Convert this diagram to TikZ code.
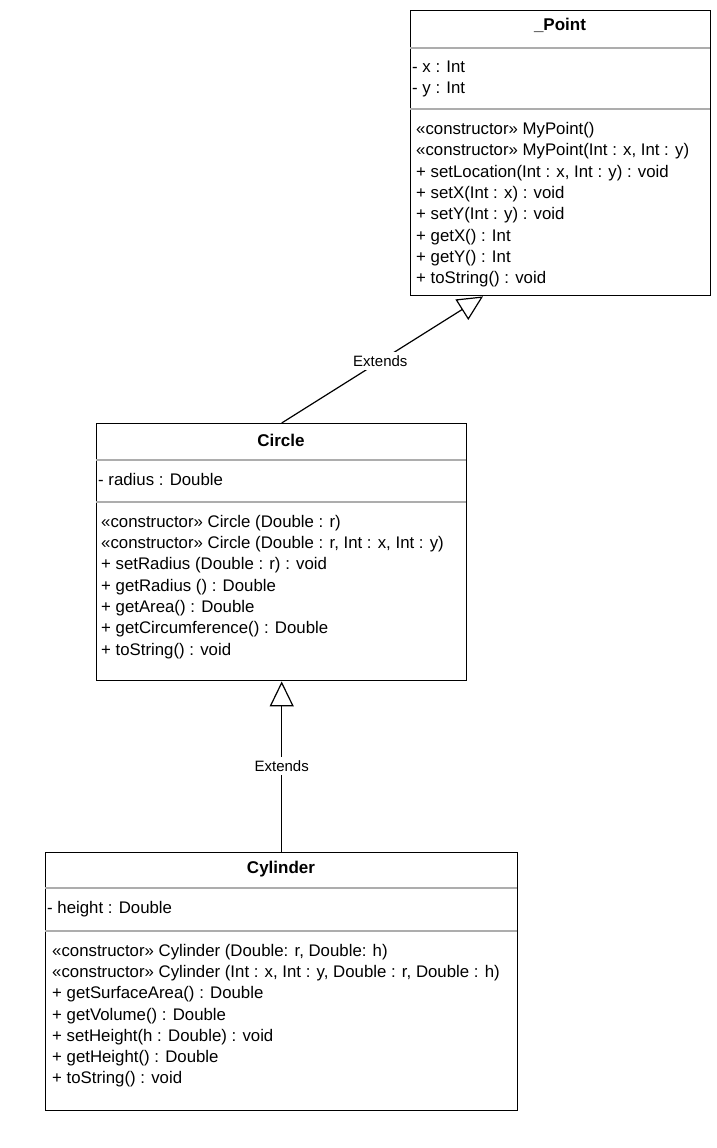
\documentclass[tikz,border=0pt]{standalone}
\usepackage{fontspec}
\setmainfont{Liberation Sans}
\usetikzlibrary{arrows.meta,calc}
\tikzset{
  classbox/.style={draw=black, line width=1.4pt, fill=white, anchor=north west, inner sep=0pt},
  sepline/.style={draw=black!32, line width=1.3pt},
  classtitle/.style={font=\fontsize{17}{20}\selectfont\bfseries, anchor=base, inner sep=0pt},
  member/.style={font=\fontsize{16.8}{20}\selectfont, anchor=base west, inner sep=0pt},
  extends/.style={line width=1.2pt, -{Triangle[open, length=25pt, width=24pt]}},
  elabel/.style={font=\fontsize{15}{18}\selectfont, fill=white, inner xsep=2pt, inner ysep=3.5pt},
}
\begin{document}
\begin{tikzpicture}[x=1pt,y=-1pt]
\useasboundingbox (0,0) rectangle (717,1148);

% ---------- _Point ----------
\node[classbox, minimum width=300pt, minimum height=285pt] (point) at (410,10) {};
\node[classtitle] (point-t) at (560,31) {\_Point};
\draw[sepline] (410,48) -- (710,48);
\node[member] (point-a1) at (412,72.5) {- x : Int};
\node[member] (point-a2) at (412,93.5) {- y : Int};
\draw[sepline] (410,109) -- (710,109);
\foreach \t [count=\i] in {
  {«constructor» MyPoint()},
  {«constructor» MyPoint(Int : x, Int : y)},
  {+ setLocation(Int : x, Int : y) : void},
  {+ setX(Int : x) : void},
  {+ setY(Int : y) : void},
  {+ getX() : Int},
  {+ getY() : Int},
  {+ toString() : void}}
  \node[member] (point-m\i) at (416,134.5+21.3*\i-21.3) {\t};

% ---------- Circle ----------
\node[classbox, minimum width=370pt, minimum height=257pt] (circle) at (96,423) {};
\node[classtitle] (circle-t) at (281,446) {Circle};
\draw[sepline] (96,460) -- (466,460);
\node[member] (circle-a1) at (98,485.5) {- radius : Double};
\draw[sepline] (96,502) -- (466,502);
\foreach \t [count=\i] in {
  {«constructor» Circle (Double : r)},
  {«constructor» Circle (Double : r, Int : x, Int : y)},
  {+ setRadius (Double : r) : void},
  {+ getRadius () : Double},
  {+ getArea() : Double},
  {+ getCircumference() : Double},
  {+ toString() : void}}
  \node[member] (circle-m\i) at (101,527.2+21.3*\i-21.3) {\t};

% ---------- Cylinder ----------
\node[classbox, minimum width=472pt, minimum height=258pt] (cyl) at (45,852) {};
\node[classtitle] (cyl-t) at (281,873.5) {Cylinder};
\draw[sepline] (45,888) -- (517,888);
\node[member] (cyl-a1) at (47,913.5) {- height : Double};
\draw[sepline] (45,931) -- (517,931);
\foreach \t [count=\i] in {
  {«constructor» Cylinder (Double: r, Double: h)},
  {«constructor» Cylinder (Int : x, Int : y, Double : r, Double : h)},
  {+ getSurfaceArea() : Double},
  {+ getVolume() : Double},
  {+ setHeight(h : Double) : void},
  {+ getHeight() : Double},
  {+ toString() : void}}
  \node[member] (cyl-m\i) at (52,956.5+21.2*\i-21.2) {\t};

% ---------- connectors ----------
\coordinate (point-in) at ($(point.south west)+(73,0)$);
\draw[extends] (circle.north) -- node[elabel, pos=0.49] (lab1) {Extends} (point-in);
\draw[extends] (cyl.north) -- node[elabel, pos=0.505] (lab2) {Extends} (circle.south);
\end{tikzpicture}
\end{document}
